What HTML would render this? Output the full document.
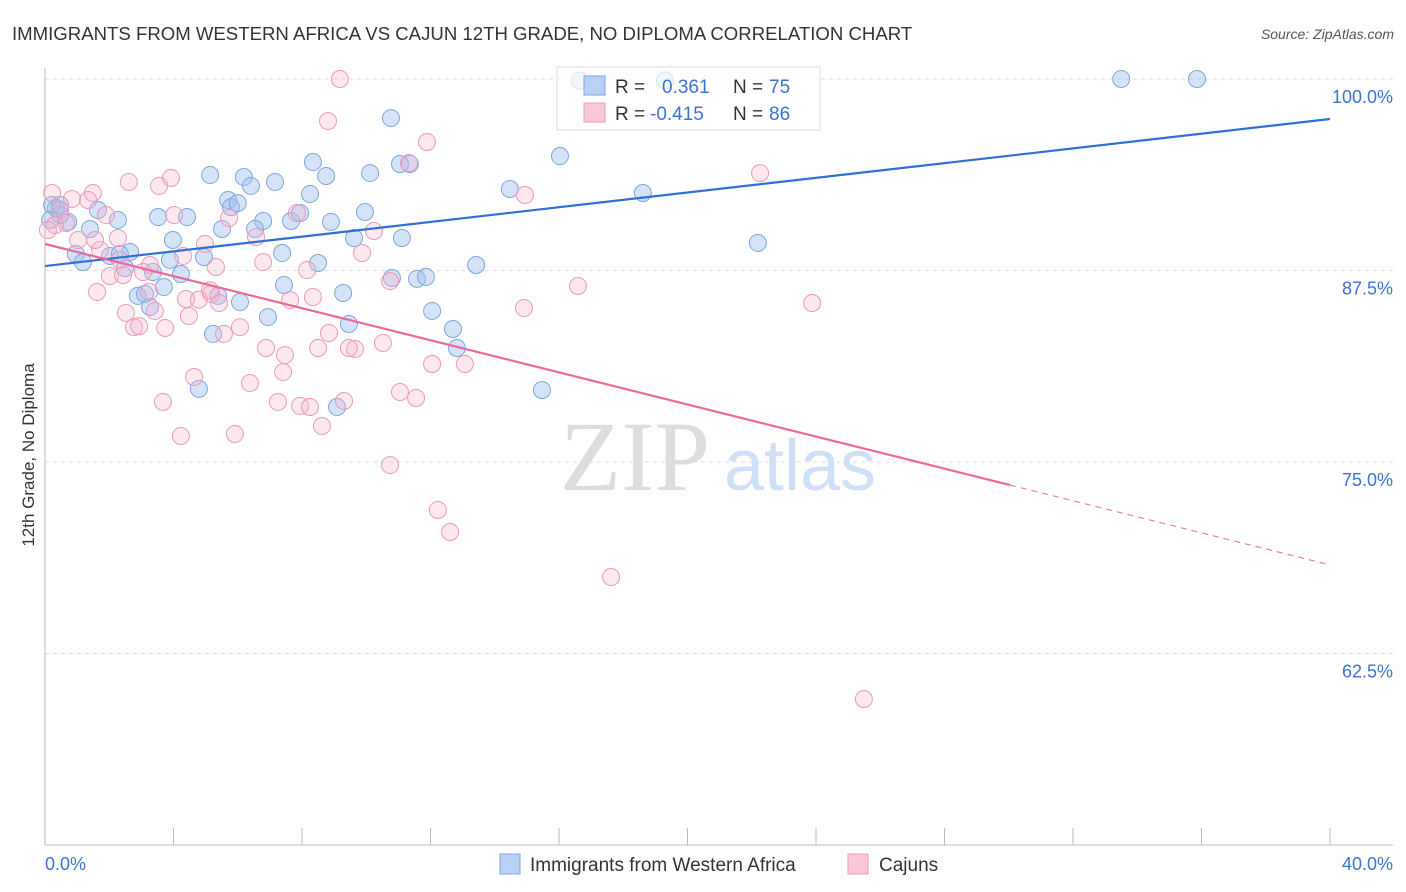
<!DOCTYPE html>
<html><head><meta charset="utf-8"><style>
body{margin:0;background:#fff;font-family:"Liberation Sans",sans-serif;}
svg{display:block}
</style></head><body>
<svg id="chart" width="1406" height="892" font-family="Liberation Sans, sans-serif">
<text x="12" y="40" font-size="18.6" fill="#333">IMMIGRANTS FROM WESTERN AFRICA VS CAJUN 12TH GRADE, NO DIPLOMA CORRELATION CHART</text>
<text x="1394" y="39" font-size="14" fill="#555" text-anchor="end" font-style="italic">Source: ZipAtlas.com</text>
<text transform="translate(34,455) rotate(-90)" font-size="17" fill="#333" text-anchor="middle">12th Grade, No Diploma</text>
<g>
<text x="635" y="490" font-size="100" fill="#ddd" text-anchor="middle" font-family="Liberation Serif, serif">ZIP</text>
<text x="800" y="490" font-size="72" fill="#cfdff5" text-anchor="middle">atlas</text>
</g>
<g id="grid"></g><g id="axes"></g><g id="blue"></g><g id="pink"></g><g id="trend"></g>
<g>
<rect x="557" y="67" width="263" height="63" fill="rgba(255,255,255,0.7)" stroke="#ddd"/>
<rect x="584" y="76" width="21" height="19" fill="#b9d1f5" stroke="#7aa7e6"/>
<rect x="584" y="103" width="21" height="19" fill="#fbc8d8" stroke="#ee9ab8"/>
<text x="615" y="93" font-size="19" fill="#333">R =</text>
<text x="662" y="93" font-size="19" fill="#3b73d1">0.361</text>
<text x="733" y="93" font-size="19" fill="#333">N =</text>
<text x="769" y="93" font-size="19" fill="#3b73d1">75</text>
<text x="615" y="120" font-size="19" fill="#333">R =</text>
<text x="650" y="120" font-size="19" fill="#3b73d1">-0.415</text>
<text x="733" y="120" font-size="19" fill="#333">N =</text>
<text x="769" y="120" font-size="19" fill="#3b73d1">86</text>
</g>
<g>
<rect x="500" y="854" width="20" height="20" fill="#b9d1f5" stroke="#7aa7e6"/>
<text x="530" y="871" font-size="19" fill="#333">Immigrants from Western Africa</text>
<rect x="848" y="854" width="20" height="20" fill="#fbc8d8" stroke="#ee9ab8"/>
<text x="879" y="871" font-size="19" fill="#333">Cajuns</text>
</g>
<text x="45" y="870" font-size="18" fill="#3b73d1">0.0%</text>
<text x="1393" y="870" font-size="18" fill="#3b73d1" text-anchor="end">40.0%</text>
</svg>
<script>
const yTicks=[100,87.5,75,62.5];
const yTickLabels=["100.0%","87.5%","75.0%","62.5%"];
const xTicks=[0,4,8,12,16,20,24,28,32,36,40];
const blueX=[16.65,33.5,35.86,10.77,16.03,8.34,5.14,6.19,10.12,8.75,7.16,6.41,14.47,18.61,8.25,5.70,5.79,0.34,1.65,3.52,4.42,2.27,0.72,6.79,7.66,7.94,8.90,9.96,5.51,6.54,1.40,3.98,9.62,11.11,22.19,2.65,0.96,2.02,4.95,7.38,3.89,1.18,8.50,13.42,2.49,3.36,4.23,10.80,11.58,11.86,7.44,3.70,2.89,5.39,9.28,3.11,6.07,3.27,12.05,6.94,9.46,12.70,5.23,12.82,4.79,15.47,9.09,11.36,11.05,0.47,0.22,2.33,0.47,0.16,6.0,19.3];
const blueY=[99.9,100,100,97.45,94.97,94.58,93.73,93.6,93.86,93.67,93.28,93.02,92.82,92.56,92.49,92.1,91.64,91.58,91.45,90.99,90.99,90.8,90.67,90.73,90.73,91.25,90.67,91.32,90.21,90.21,90.21,89.49,89.62,89.62,89.3,88.71,88.58,88.45,88.38,88.64,88.19,88.05,87.99,87.86,87.66,87.4,87.27,87.01,86.95,87.08,86.55,86.42,85.84,85.84,86.03,85.97,85.44,85.12,84.86,84.46,84.01,83.68,83.36,82.44,79.77,79.7,78.59,94.45,94.45,91.12,91.78,88.58,91.78,90.8,91.9,99.9];
const pinkX=[9.18,8.81,11.89,11.33,22.26,2.61,3.92,3.55,1.49,0.22,0.84,14.94,1.34,0.47,1.90,4.02,5.73,7.84,0.65,10.24,6.57,2.27,1.03,4.98,1.71,4.30,9.87,6.79,5.32,8.16,3.05,2.02,2.43,10.74,16.59,1.62,3.24,5.17,4.39,4.79,8.34,5.42,23.88,14.91,3.42,2.52,4.48,3.74,2.77,2.93,6.07,5.57,8.84,10.52,6.88,8.50,9.65,9.46,7.47,12.05,13.07,7.41,4.64,6.38,11.05,11.55,3.67,7.25,9.31,7.94,8.25,8.62,4.23,5.91,10.74,12.23,12.61,17.62,25.49,0.31,0.09,1.56,2.33,5.14,7.63,3.27];
const pinkY=[100,97.26,95.89,94.52,93.86,93.28,93.54,93.02,92.56,92.56,92.17,92.43,92.1,91.45,91.12,91.12,90.93,91.25,90.6,90.08,89.69,89.62,89.49,89.23,88.84,88.45,88.64,88.05,87.73,87.53,87.4,87.14,87.2,86.81,86.49,86.1,86.1,85.97,85.64,85.6,85.77,85.38,85.38,85.05,84.86,84.73,84.53,83.75,83.8,83.87,83.8,83.36,83.42,82.77,82.44,82.44,82.38,82.44,81.98,81.4,81.4,80.87,80.55,80.16,79.57,79.18,78.92,78.92,78.98,78.66,78.59,77.35,76.7,76.83,74.8,71.87,70.43,67.49,59.53,90.47,90.14,89.49,88.19,86.2,85.57,87.86];
const blueTrend=[87.79,97.39];
const pinkTrend=[89.23,68.28];
const pinkSolidEnd=30.04;

const NS="http://www.w3.org/2000/svg";
const X=v=>45+v/40*1285;
const Y=v=>79+(100-v)/12.5*191.5;
function mk(tag,attrs,parent){const e=document.createElementNS(NS,tag);for(const k in attrs)e.setAttribute(k,attrs[k]);document.getElementById(parent).appendChild(e);return e;}
yTicks.forEach((t,i)=>{
  const l=mk('line',{x1:45,x2:1393,y1:Y(t),y2:Y(t),stroke:'#ddd','stroke-dasharray':'4,4'},'grid');
  
  
  const tx=mk('text',{x:1393,y:Y(t)+24,'font-size':18,fill:'#3b73d1','text-anchor':'end'},'grid');
  tx.textContent=yTickLabels[i];
  
  
});
const ax=mk('line',{x1:45,x2:45,y1:68,y2:845,stroke:'#bbb'},'axes');


const bx=mk('line',{x1:45,x2:1393,y1:845,y2:845,stroke:'#bbb'},'axes');


xTicks.forEach(t=>{
  const l=mk('line',{x1:X(t),x2:X(t),y1:828,y2:845,stroke:'#bbb'},'axes');
  
  
});
blueX.forEach((v,i)=>{
  const c=mk('circle',{cx:X(v),cy:Y(blueY[i]),r:8.5,fill:'rgba(160,192,240,0.45)',stroke:'#7ea6e0','stroke-width':1},'blue');
  
  
});
pinkX.forEach((v,i)=>{
  const c=mk('circle',{cx:X(v),cy:Y(pinkY[i]),r:8.5,fill:'rgba(248,180,205,0.3)',stroke:'#eb9ab8','stroke-width':1},'pink');
  
  
});
const bl=mk('line',{x1:X(0),y1:Y(blueTrend[0]),x2:X(40),y2:Y(blueTrend[1]),stroke:'#2f6fd6','stroke-width':2.2},'trend');


const pe=pinkTrend[0]+(pinkTrend[1]-pinkTrend[0])*pinkSolidEnd/40;
const pl=mk('line',{x1:X(0),y1:Y(pinkTrend[0]),x2:X(pinkSolidEnd),y2:Y(pe),stroke:'#e8699a','stroke-width':2.2},'trend');


const pd=mk('line',{x1:X(pinkSolidEnd),y1:Y(pe),x2:X(40),y2:Y(pinkTrend[1]),stroke:'#e8699a','stroke-width':1,'stroke-dasharray':'6,5'},'trend');


</script>
</body></html>
